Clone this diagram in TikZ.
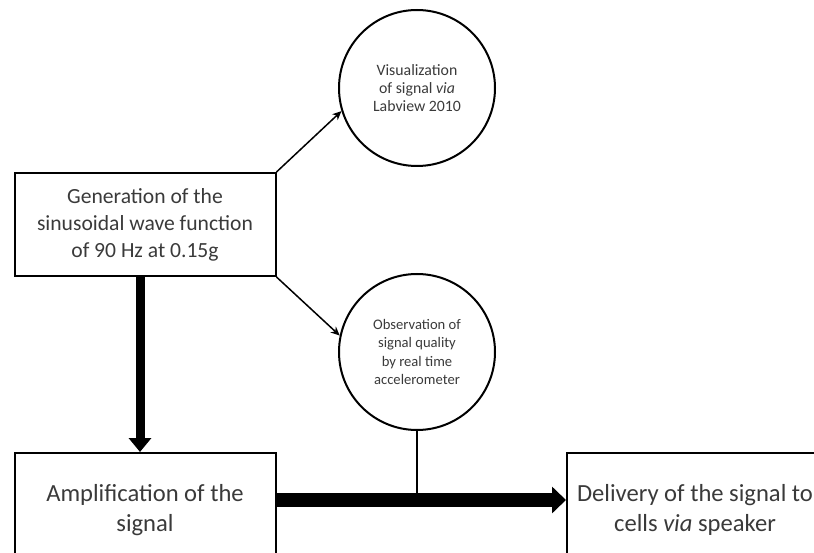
\documentclass[tikz,border=0pt]{standalone}
\usepackage{fontspec}
\setmainfont{Carlito}
\usetikzlibrary{arrows.meta}
\definecolor{txt}{HTML}{3A3A3A}
\begin{document}
\begin{tikzpicture}[x=1pt,y=-1pt,
  box/.style={draw=black,line width=2pt,rectangle,align=center,text=txt,inner sep=0pt},
  circ/.style={draw=black,line width=2pt,circle,minimum size=156pt,align=center,text=txt,inner sep=0pt},
  thin arrow/.style={line width=1.5pt,-{Stealth[length=9pt,width=8pt]}},
  thick arrow/.style={line width=#1,-{Triangle[length=14pt,width=26pt]}}]
\useasboundingbox (0,0) rectangle (814,553);
\clip (0,0) rectangle (814,553);
\node[box,minimum width=261pt,minimum height=103pt,font=\fontsize{21.6}{27}\selectfont] (gen) at (145,224.5)
  {Generation of the\\sinusoidal wave function\\of 90 Hz at 0.15g};
\node[circ,font=\fontsize{15.8}{18}\selectfont] (vis) at (417,88)
  {Visualization\\of signal \textit{via}\\Labview 2010};
\node[circ,font=\fontsize{14.6}{18.5}\selectfont] (obs) at (417,352)
  {Observation of\\signal quality\\by real time\\accelerometer};
\node[box,minimum width=261pt,minimum height=114pt,font=\fontsize{24.6}{30}\selectfont] (amp) at (145,510)
  {Amplification of the\\signal};
\node[box,minimum width=256pt,minimum height=114pt,font=\fontsize{24.6}{30}\selectfont] (del) at (695,510)
  {Delivery of the signal to\\cells \textit{via} speaker};
\coordinate (j) at (417,500);
\coordinate (gb) at (140,224.5);
\draw[thin arrow] (gen.north east) -- (vis.197);
\draw[thin arrow] (gen.south east) -- (obs.168);
\draw[thick arrow=9pt,-{Triangle[length=14pt,width=22pt]}] (gen.south -| gb) -- (amp.north -| gb);
\draw[line width=1.5pt] (obs.south) -- (j);
\draw[thick arrow=14pt] (amp.east |- j) -- (del.west |- j);
\end{tikzpicture}
\end{document}
